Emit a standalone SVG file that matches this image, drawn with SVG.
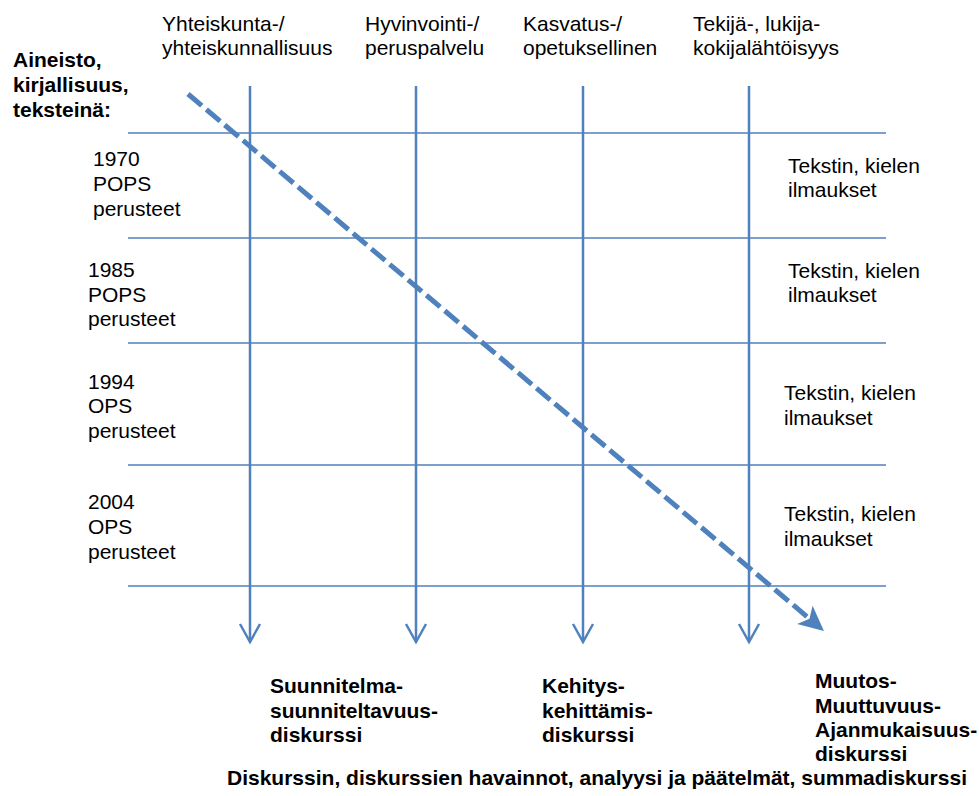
<svg xmlns="http://www.w3.org/2000/svg" width="979" height="796" viewBox="0 0 979 796">
<style>
.t{font-family:"Liberation Sans",Arial,sans-serif;font-size:21px;fill:#000}
.b{font-weight:bold}
.h{stroke:#4F81BD;stroke-width:1.6;fill:none}
.v{stroke:#4F81BD;stroke-width:2.5;fill:none;marker-end:url(#open)}
.d{stroke:#4F81BD;stroke-width:5;fill:none;stroke-dasharray:18 6;marker-end:url(#solid)}
</style>
<defs>
<marker id="open" markerUnits="userSpaceOnUse" viewBox="-21 -13 24 26" refX="0" refY="0" markerWidth="24" markerHeight="26" orient="auto">
<path d="M-18,-10 L0,0 L-18,10" fill="none" stroke="#4F81BD" stroke-width="2.5"/>
</marker>
<marker id="solid" markerUnits="userSpaceOnUse" viewBox="-12 -14 30 28" refX="0" refY="0" markerWidth="30" markerHeight="28" orient="auto">
<path d="M15,0 L-10,-12 L-4,0 L-10,12 Z" fill="#4F81BD"/>
</marker>
</defs>
<g id="connectors">
<line class="h" x1="128" y1="133" x2="886" y2="133"/>
<line class="h" x1="128" y1="238" x2="886" y2="238"/>
<line class="h" x1="128" y1="343" x2="886" y2="343"/>
<line class="h" x1="128" y1="465" x2="886" y2="465"/>
<line class="h" x1="128" y1="586" x2="886" y2="586"/>
<line class="v" x1="250" y1="86" x2="250" y2="642"/>
<line class="v" x1="416" y1="86" x2="416" y2="642"/>
<line class="v" x1="583" y1="86" x2="583" y2="642"/>
<line class="v" x1="749" y1="86" x2="749" y2="642"/>
<line class="d" x1="188" y1="94" x2="812.5" y2="621.3"/>
</g>
<g id="col1"><text class="t" x="162" y="31">Yhteiskunta-/</text><text class="t" x="162" y="55">yhteiskunnallisuus</text></g>
<g id="col2"><text class="t" x="365" y="31">Hyvinvointi-/</text><text class="t" x="365" y="55">peruspalvelu</text></g>
<g id="col3"><text class="t" x="523" y="31">Kasvatus-/</text><text class="t" x="523" y="55">opetuksellinen</text></g>
<g id="col4"><text class="t" x="693" y="31">Tekijä-, lukija-</text><text class="t" x="693" y="55">kokijalähtöisyys</text></g>
<g id="aineisto"><text class="t b" x="13" y="67">Aineisto,</text><text class="t b" x="13" y="92">kirjallisuus,</text><text class="t b" x="13" y="117">teksteinä:</text></g>
<g id="row1970"><text class="t" x="93" y="166">1970</text><text class="t" x="93" y="191">POPS</text><text class="t" x="93" y="216">perusteet</text></g>
<g id="row1985"><text class="t" x="88" y="277">1985</text><text class="t" x="88" y="302">POPS</text><text class="t" x="88" y="326">perusteet</text></g>
<g id="row1994"><text class="t" x="88" y="389">1994</text><text class="t" x="88" y="413">OPS</text><text class="t" x="88" y="438">perusteet</text></g>
<g id="row2004"><text class="t" x="88" y="509">2004</text><text class="t" x="88" y="534">OPS</text><text class="t" x="88" y="559">perusteet</text></g>
<g id="ilm1"><text class="t" x="788" y="173">Tekstin, kielen</text><text class="t" x="788" y="197">ilmaukset</text></g>
<g id="ilm2"><text class="t" x="788" y="278">Tekstin, kielen</text><text class="t" x="788" y="302">ilmaukset</text></g>
<g id="ilm3"><text class="t" x="784" y="400">Tekstin, kielen</text><text class="t" x="784" y="425">ilmaukset</text></g>
<g id="ilm4"><text class="t" x="784" y="521">Tekstin, kielen</text><text class="t" x="784" y="546">ilmaukset</text></g>
<g id="suunnitelma"><text class="t b" x="270" y="693">Suunnitelma-</text><text class="t b" x="270" y="718">suunniteltavuus-</text><text class="t b" x="270" y="742">diskurssi</text></g>
<g id="kehitys"><text class="t b" x="542" y="693">Kehitys-</text><text class="t b" x="542" y="718">kehittämis-</text><text class="t b" x="542" y="742">diskurssi</text></g>
<g id="muutos"><text class="t b" x="815" y="688">Muutos-</text><text class="t b" x="815" y="713">Muuttuvuus-</text><text class="t b" x="815" y="737">Ajanmukaisuus-</text><text class="t b" x="815" y="761">diskurssi</text></g>
<g id="summa"><text class="t b" x="227" y="785">Diskurssin, diskurssien havainnot, analyysi ja päätelmät, summadiskurssi</text></g>
</svg>
